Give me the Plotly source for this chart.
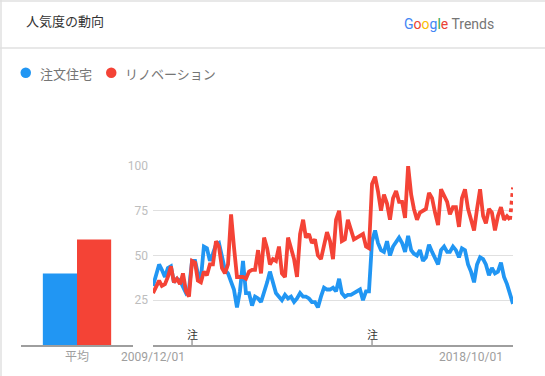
import plotly.graph_objects as go
import pandas as pd

# ---------------- data ----------------
months = pd.date_range("2009-12-01", periods=121, freq="MS")
series_names = ["注文住宅", "リノベーション"]
chumon = [33, 39, 45, 42, 38, 43, 44, 35, 37, 36, 33, 29, 31, 47, 47, 40, 37, 55, 54, 47,
          51, 56, 57, 49, 42, 40, 36, 31, 21, 30, 47, 29, 29, 22, 27, 26, 24, 29, 35, 41,
          35, 29, 27, 25, 28, 26, 27, 24, 26, 29, 27, 27, 26, 24, 24, 21, 27, 32, 31, 31,
          32, 30, 37, 29, 27, 28, 28, 29, 30, 31, 25, 30, 30, 58, 64, 57, 53, 52, 58, 50,
          55, 58, 60, 57, 52, 61, 53, 51, 50, 53, 47, 49, 56, 52, 49, 45, 53, 55, 52, 52,
          55, 53, 49, 54, 53, 45, 41, 35, 45, 49, 48, 45, 39, 43, 40, 41, 46, 38, 34, 28,
          23]
renov = [29, 33, 36, 33, 34, 38, 44, 35, 37, 34, 40, 30, 27, 47, 46, 36, 35, 41, 39, 45,
         45, 58, 55, 43, 40, 45, 73, 55, 38, 38, 38, 37, 41, 42, 42, 53, 40, 60, 54, 45,
         48, 47, 55, 40, 38, 60, 54, 48, 38, 62, 70, 60, 62, 57, 59, 50, 48, 57, 63, 58,
         48, 70, 75, 58, 59, 70, 64, 59, 60, 61, 62, 55, 54, 90, 94, 86, 75, 84, 79, 70,
         82, 86, 80, 80, 71, 100, 84, 76, 70, 74, 75, 76, 85, 82, 74, 67, 87, 84, 80, 73,
         77, 77, 66, 82, 87, 76, 70, 64, 76, 87, 72, 68, 76, 74, 64, 72, 77, 70, 72, 70,
         88]
avg_labels = ["平均"]
avg_chumon = [40]
avg_renov = [59]
y_ticks = [25, 50, 75, 100]
date_ticks = ["2009-12-01", "2018-10-01"]
date_tick_labels = ["2009/12/01", "2018/10/01"]
note_dates = ["2011-01-01", "2016-01-01"]
note_label = "注"

BLUE = "#2196F3"
RED = "#F44336"
W, H = 545, 376
FONT = "Roboto, 'Noto Sans CJK JP', sans-serif"
JFONT = "'Noto Sans CJK JP', Roboto, sans-serif"


def px(x):
    return x / W


def py(y):
    return 1 - y / H


fig = go.Figure()

# bar panel (averages)
fig.add_trace(go.Bar(x=avg_labels, y=avg_chumon, marker_color=BLUE, marker_line_width=0,
                     xaxis="x", yaxis="y", showlegend=False, hoverinfo="skip"))
fig.add_trace(go.Bar(x=avg_labels, y=avg_renov, marker_color=RED, marker_line_width=0,
                     xaxis="x", yaxis="y", showlegend=False, hoverinfo="skip"))

# line panel
LW = 3.8
fig.add_trace(go.Scatter(x=months, y=chumon, mode="lines", line=dict(color=BLUE, width=LW),
                         xaxis="x2", yaxis="y2", showlegend=False, hoverinfo="skip"))
fig.add_trace(go.Scatter(x=months[:-1], y=renov[:-1], mode="lines",
                         line=dict(color=RED, width=LW),
                         xaxis="x2", yaxis="y2", showlegend=False, hoverinfo="skip"))
fig.add_trace(go.Scatter(x=months[-2:], y=renov[-2:], mode="lines",
                         line=dict(color=RED, width=LW, dash="dot"),
                         xaxis="x2", yaxis="y2", showlegend=False, hoverinfo="skip"))

y_dom = [py(345), py(166)]

fig.update_layout(
    template="none",
    width=W, height=H, autosize=False,
    margin=dict(l=0, r=0, t=0, b=0, pad=0, autoexpand=False),
    paper_bgcolor="white", plot_bgcolor="white",
    barmode="group", bargap=0.39, bargroupgap=0,
    font=dict(family=FONT, size=12, color="#9e9e9e"),
    hovermode=False,
    xaxis=dict(domain=[px(21), px(133)], showline=True, linecolor="#9e9e9e", linewidth=1.5,
               showgrid=False, zeroline=False, ticks="", automargin=False,
               tickfont=dict(family=JFONT, size=12, color="#9e9e9e"), fixedrange=True),
    yaxis=dict(domain=y_dom, range=[0, 100], visible=False, automargin=False, fixedrange=True),
    xaxis2=dict(domain=[px(153), px(513)], type="date", anchor="y2",
                range=[months[0], months[-1]], automargin=False,
                showline=True, linecolor="#9e9e9e", linewidth=1.5, showgrid=False,
                zeroline=False, ticks="", tickvals=date_ticks, ticktext=date_tick_labels,
                tickfont=dict(family=FONT, size=12, color="#9e9e9e"), fixedrange=True),
    yaxis2=dict(domain=y_dom, range=[0, 100], anchor="x2", tickvals=y_ticks,
                showgrid=True, gridcolor="#e0e0e0", gridwidth=1, zeroline=False,
                showline=False, ticks="", ticklabelstandoff=4, automargin=False,
                tickfont=dict(family=FONT, size=12, color="#bdbdbd"), fixedrange=True),
)

shapes = [
    # card borders and header separator
    dict(type="line", xref="paper", yref="paper", x0=px(1), x1=px(1), y0=0, y1=1,
         line=dict(color="#e0e0e0", width=1.5)),
    dict(type="line", xref="paper", yref="paper", x0=0, x1=1, y0=py(1), y1=py(1),
         line=dict(color="#e0e0e0", width=1.5)),
    dict(type="line", xref="paper", yref="paper", x0=0, x1=1, y0=py(48), y1=py(48),
         line=dict(color="#e0e0e0", width=1.5)),
    # legend dots
    dict(type="circle", xref="paper", yref="paper", x0=px(20.5), x1=px(31), y0=py(78), y1=py(67.5),
         fillcolor=BLUE, line=dict(width=0)),
    dict(type="circle", xref="paper", yref="paper", x0=px(106), x1=px(116.5), y0=py(78), y1=py(67.5),
         fillcolor=RED, line=dict(width=0)),
]
annotations = [
    dict(text="人気度の動向", xref="paper", yref="paper", x=px(24), y=py(21), xanchor="left",
         yanchor="middle", showarrow=False, font=dict(family=JFONT, size=13, color="#333333")),
    dict(text=("<span style='color:#4285F4'>G</span><span style='color:#EA4335'>o</span>"
               "<span style='color:#FBBC05'>o</span><span style='color:#4285F4'>g</span>"
               "<span style='color:#34A853'>l</span><span style='color:#EA4335'>e</span>"
               " <span style='color:#757575'>Trends</span>"),
         xref="paper", yref="paper", x=px(496), y=py(24), xanchor="right", yanchor="middle",
         showarrow=False, font=dict(family="Roboto, sans-serif", size=14, color="#757575")),
    dict(text=series_names[0], xref="paper", yref="paper", x=px(38), y=py(73), xanchor="left",
         yanchor="middle", showarrow=False, font=dict(family=JFONT, size=13, color="#757575")),
    dict(text=series_names[1], xref="paper", yref="paper", x=px(123), y=py(73), xanchor="left",
         yanchor="middle", showarrow=False, font=dict(family=JFONT, size=13, color="#757575")),
]
for d in note_dates:
    shapes.append(dict(type="line", xref="x2", yref="paper", x0=d, x1=d, y0=py(345), y1=py(340),
                       line=dict(color="#9e9e9e", width=1.5)))
    annotations.append(dict(text=note_label, xref="x2", yref="paper", x=d, y=py(334),
                            xanchor="center", yanchor="middle", showarrow=False,
                            font=dict(family=JFONT, size=11, color="#333333")))

fig.update_layout(shapes=shapes, annotations=annotations)

fig.write_html("out.html", config={"displayModeBar": False},
               post_script="document.body.style.margin='0';document.body.style.overflow='hidden';")
